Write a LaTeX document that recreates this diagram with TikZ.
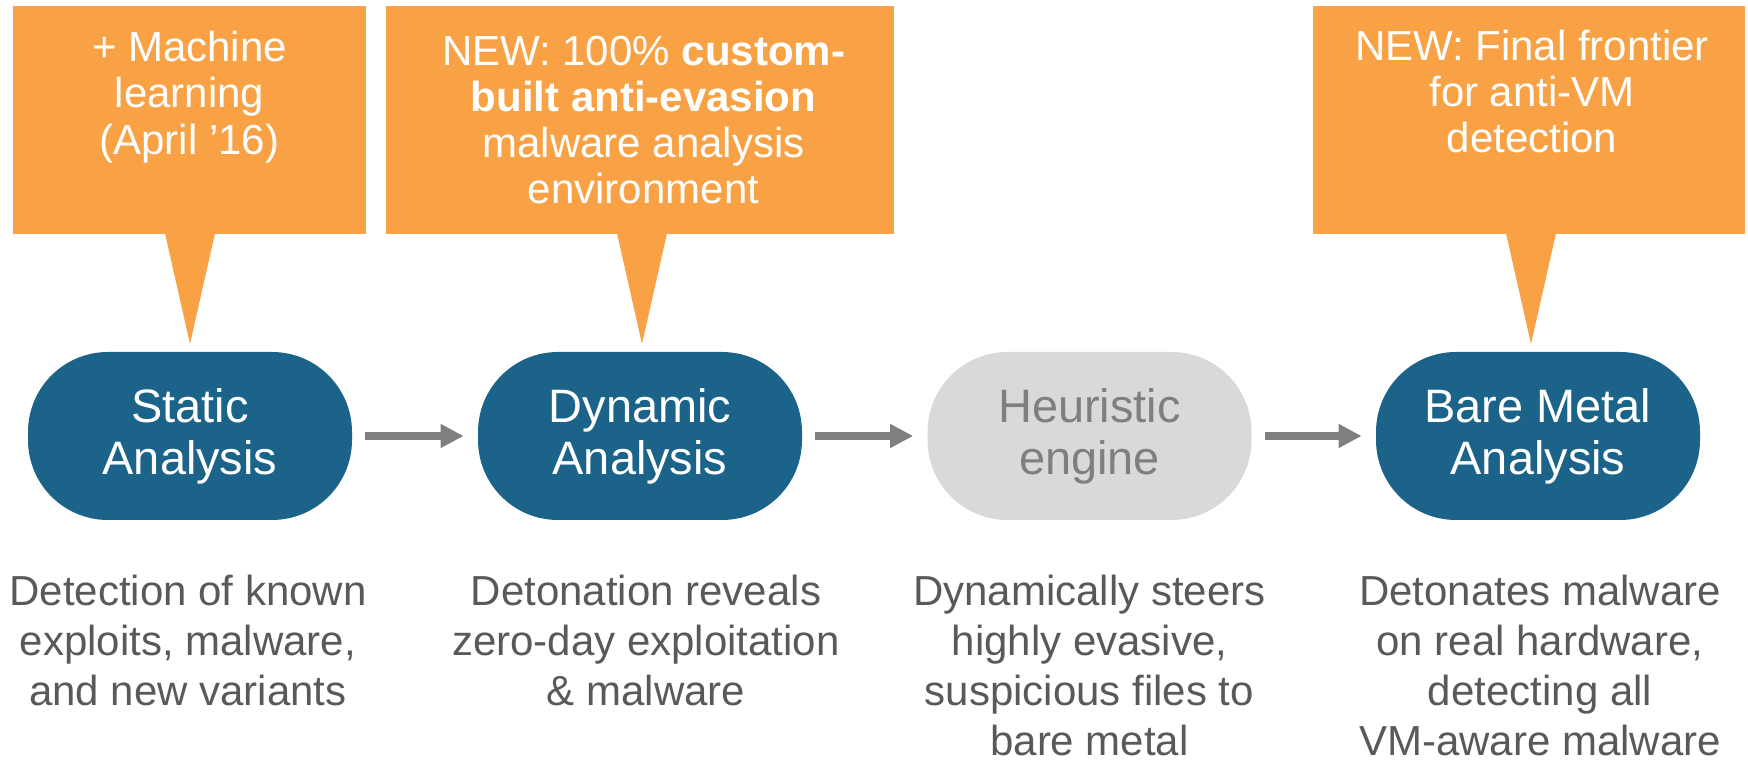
\documentclass[tikz,border=0pt]{standalone}
\usepackage{fontspec}
\setmainfont{Liberation Sans}
\usepackage{xcolor}
\definecolor{myorange}{RGB}{248,162,69}
\definecolor{myblue}{RGB}{27,99,136}
\definecolor{mylight}{RGB}{217,217,217}
\definecolor{mygray}{RGB}{127,127,127}
\definecolor{mydark}{RGB}{89,89,89}
\usetikzlibrary{calc,positioning,arrows.meta}

\begin{document}
\begin{tikzpicture}
	\tikzstyle{pill}=[rectangle,rounded corners=1.6cm,minimum width=6.48cm,minimum height=3.36cm,inner sep=0pt,align=center,font=\fontsize{26.7}{29.6}\selectfont];
	\tikzstyle{dark}=[fill=myblue,text=white];
	\tikzstyle{pale}=[fill=mylight,text=mygray];
	\tikzstyle{callout}=[rectangle,fill=myorange,inner sep=0pt,minimum height=4.56cm];
	\tikzstyle{calltext}=[align=center,text=white,inner sep=0pt,font=\fontsize{23.9}{26.2}\selectfont];
	\tikzstyle{note}=[align=center,text=mydark,inner sep=0pt,font=\fontsize{23.9}{28.45}\selectfont];
	\tikzstyle{flow}=[draw=mygray,line width=0.16cm,-{Triangle[length=0.46cm,width=0.45cm]},shorten <=0.26cm,shorten >=0.28cm];
	\useasboundingbox (0,0) rectangle (34.96,15.22);
	%%
	\node[pill,dark] (static)  at (3.8,6.5)   {Static\\Analysis};
	\node[pill,dark] (dynamic) at (12.8,6.5)  {Dynamic\\Analysis};
	\node[pill,pale] (heur)    at (21.79,6.5) {Heuristic\\engine};
	\node[pill,dark] (bare)    at (30.76,6.5) {Bare Metal\\Analysis};
	%%
	\draw[flow] (static)  -- (dynamic);
	\draw[flow] (dynamic) -- (heur);
	\draw[flow] (heur)    -- (bare);
	%%
	\node[callout,minimum width=7.06cm]  (mlbox)  at (3.79,12.82)  {};
	\node[callout,minimum width=10.16cm] (newbox) at (12.8,12.82)  {};
	\node[callout,minimum width=8.64cm]  (vmbox)  at (30.58,12.82) {};
	\coordinate (mltip)  at (3.8,8.34);
	\coordinate (newtip) at (12.84,8.34);
	\coordinate (vmtip)  at (30.62,8.34);
	\fill[myorange] ($(mltip|-mlbox.south)+(-0.5,0.02)$)   -- (mltip)  -- ($(mltip|-mlbox.south)+(0.5,0.02)$)   --cycle;
	\fill[myorange] ($(newtip|-newbox.south)+(-0.5,0.02)$) -- (newtip) -- ($(newtip|-newbox.south)+(0.5,0.02)$) --cycle;
	\fill[myorange] ($(vmtip|-vmbox.south)+(-0.5,0.02)$)   -- (vmtip)  -- ($(vmtip|-vmbox.south)+(0.5,0.02)$)   --cycle;
	%%
	\node[calltext,below=0.51cm of mlbox.north]               (mltext)  {+ Machine\\learning\\(April ’16)};
	\node[calltext,below=0.6cm of newbox.north,xshift=0.07cm] (newtext) {NEW: 100\% \textbf{custom-}\\\textbf{built anti-evasion}\\malware analysis\\environment};
	\node[calltext,below=0.48cm of vmbox.north,xshift=0.06cm] (vmtext)  {NEW: Final frontier\\for anti-VM\\detection};
	%%
	\node[note,below=1.08cm of static,xshift=-0.04cm] (staticnote)  {Detection of known\\exploits, malware,\\and new variants};
	\node[note,below=1.08cm of dynamic,xshift=0.12cm] (dynamicnote) {Detonation reveals\\zero-day exploitation\\\& malware};
	\node[note,below=1.08cm of heur]                  (heurnote)    {Dynamically steers\\highly evasive,\\suspicious files to\\bare metal};
	\node[note,below=1.08cm of bare,xshift=0.04cm]    (barenote)    {Detonates malware\\on real hardware,\\detecting all\\VM-aware malware};
\end{tikzpicture}
\end{document}
